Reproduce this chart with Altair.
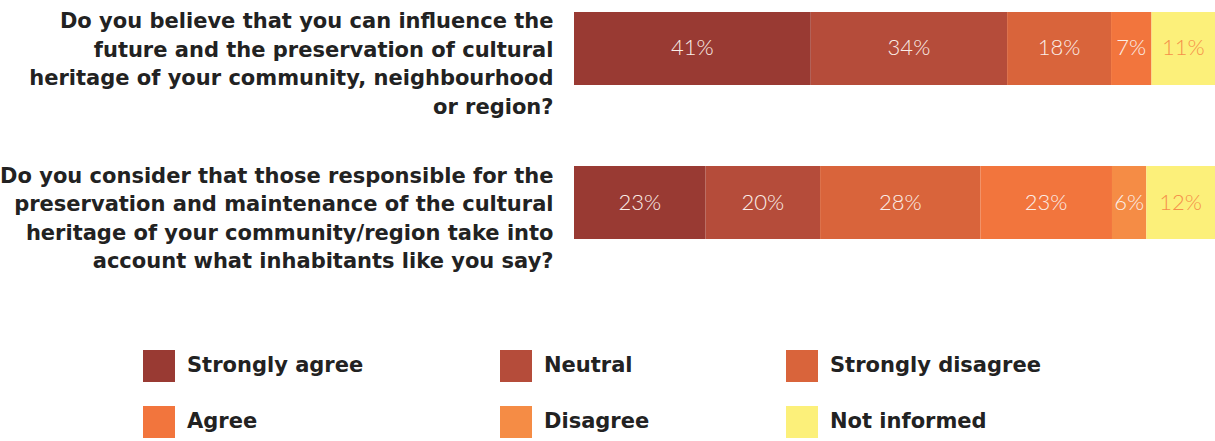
import altair as alt
import pandas as pd

questions = [
    "Do you believe that you can influence the|future and the preservation of cultural|heritage of your community, neighbourhood|or region?",
    "Do you consider that those responsible for the|preservation and maintenance of the cultural|heritage of your community/region take into|account what inhabitants like you say?",
]
categories = ["Strongly agree", "Neutral", "Strongly disagree", "Agree", "Disagree", "Not informed"]
colors = ["#993a33", "#b54c3a", "#d9643b", "#f2753d", "#f58c45", "#fcf07a"]
q1_values = [41, 34, 18, 7, 0, 11]
q2_values = [23, 20, 28, 23, 6, 12]

rows = []
for q, vals in zip(questions, [q1_values, q2_values]):
    for i, (c, v) in enumerate(zip(categories, vals)):
        if v > 0:
            rows.append({"question": q, "category": c, "value": v, "order": i})
df = pd.DataFrame(rows)

base = alt.Chart(df).transform_stack(
    stack="value", groupby=["question"], as_=["x0", "x1"],
    offset="normalize", sort=[alt.SortField("order", order="ascending")]
).transform_calculate(
    mid="(datum.x0 + datum.x1) / 2",
    label="datum.value + '%'"
)

yscale = alt.Scale(paddingInner=0.526, paddingOuter=0)

yenc = alt.Y(
    "question:N", sort=questions, title=None, scale=yscale,
    axis=alt.Axis(
        domain=False, ticks=False, grid=False, labelExpr="split(datum.value, '|')",
        labelAlign="right", labelBaseline="top", labelOffset=-37,
        labelPadding=21, labelLimit=700, labelLineHeight=28.5,
        labelFont="DejaVu Sans", labelFontWeight="bold", labelFontSize=21,
        labelColor="#222222"
    ),
)

bars = base.mark_bar(stroke=None, strokeWidth=0).encode(
    x=alt.X("x0:Q", axis=None, scale=alt.Scale(domain=[0, 1], nice=False, padding=0)),
    x2="x1:Q",
    y=yenc,
    color=alt.Color(
        "category:N",
        scale=alt.Scale(domain=categories, range=colors),
        legend=alt.Legend(
            title=None, orient="none", legendX=-431, legendY=338,
            columns=3, direction="horizontal", symbolType="square",
            symbolSize=1024, symbolStrokeWidth=0, symbolOpacity=1,
            labelFont="DejaVu Sans", labelFontWeight="bold", labelFontSize=21,
            labelColor="#222222", labelOffset=12, columnPadding=136,
            rowPadding=24, labelLimit=400, padding=0, gridAlign="each",
        ),
    ),
    order=alt.Order("order:Q"),
)

text = base.mark_text(font="Lato", fontWeight=300, fontSize=22, baseline="middle").encode(
    x=alt.X("mid:Q", axis=None),
    y=yenc,
    text="label:N",
    color=alt.condition(
        alt.datum.category == "Not informed", alt.value("#f5904a"), alt.value("#fbeee8")
    ),
)

chart = alt.layer(bars, text).properties(
    width=641, height=227, background="white",
    autosize=alt.AutoSizeParams(type="none"),
    padding={"left": 574, "top": 12, "right": 0, "bottom": 202},
).configure_view(stroke=None, strokeWidth=0)

chart.save("out.html", embed_options={"renderer": "svg", "actions": False})
